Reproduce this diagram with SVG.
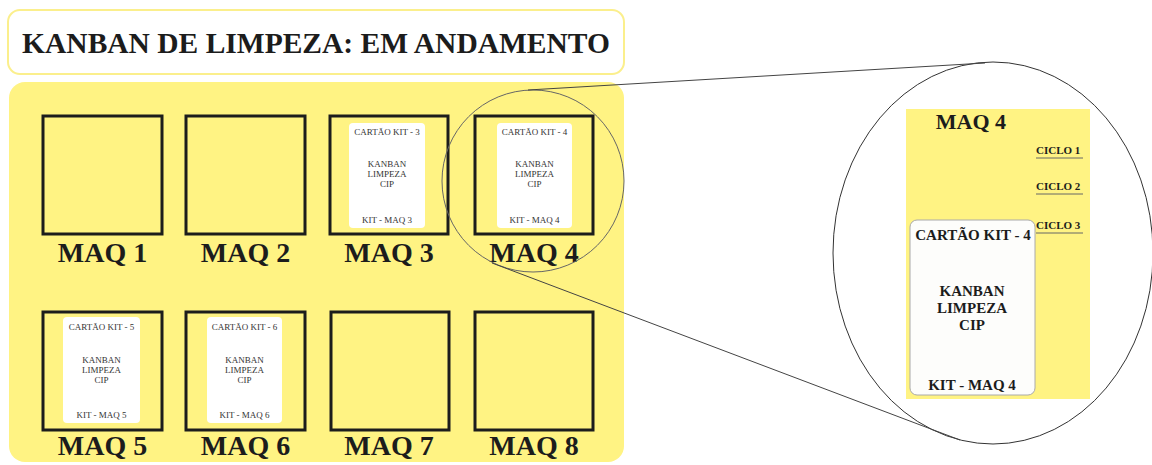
<svg xmlns="http://www.w3.org/2000/svg" width="1152" height="465" viewBox="0 0 1152 465">
<style>
.panel{fill:#fff383;}
.box{fill:none;stroke:#1c1c1c;stroke-width:3;}
.card{fill:#ffffff;}
.maq{font-family:"Liberation Serif",serif;font-weight:bold;font-size:28px;fill:#1c1c1c;text-anchor:middle;}
.ct{font-family:"Liberation Serif",serif;font-size:9px;fill:#333;text-anchor:middle;}
.big{font-family:"Liberation Serif",serif;font-weight:bold;font-size:15px;fill:#1c1c1c;text-anchor:middle;}
.ciclo{font-family:"Liberation Serif",serif;font-weight:bold;font-size:11px;fill:#1c1c1c;}
.uline{stroke:#666;stroke-width:1;}
.thin{fill:none;stroke:#444;stroke-width:1;}
</style>
<rect width="1152" height="465" fill="#ffffff"/>
<g id="title">
<rect x="8" y="10" width="616" height="64" rx="12" fill="#ffffff" stroke="#fbef8c" stroke-width="2"/>
<text x="316" y="53" font-family="Liberation Serif, serif" font-weight="bold" font-size="29.5" fill="#1c1c1c" text-anchor="middle">KANBAN DE LIMPEZA: EM ANDAMENTO</text>
</g>
<g id="board">
<rect class="panel" x="9" y="82" width="615" height="380" rx="16"/>
</g>
<g id="maq1"><rect class="box" x="43" y="116" width="119" height="118"/><text class="maq" x="102.5" y="262">MAQ 1</text></g>
<g id="maq2"><rect class="box" x="186" y="116" width="119" height="118"/><text class="maq" x="245.5" y="262">MAQ 2</text></g>
<g id="maq3"><rect class="box" x="330" y="116" width="118" height="118"/>
<rect class="card" x="349" y="123" width="76" height="105" rx="4"/>
<text class="ct" x="387" y="135">CARTÃO KIT - 3</text>
<text class="ct" x="387" y="167">KANBAN</text><text class="ct" x="387" y="177">LIMPEZA</text><text class="ct" x="387" y="187">CIP</text>
<text class="ct" x="387" y="223">KIT - MAQ 3</text>
<text class="maq" x="389" y="262">MAQ 3</text></g>
<g id="maq4"><rect class="box" x="475" y="116" width="118" height="118"/>
<rect class="card" x="497" y="123" width="75" height="105" rx="4"/>
<text class="ct" x="534.5" y="135">CARTÃO KIT - 4</text>
<text class="ct" x="534.5" y="167">KANBAN</text><text class="ct" x="534.5" y="177">LIMPEZA</text><text class="ct" x="534.5" y="187">CIP</text>
<text class="ct" x="534.5" y="223">KIT - MAQ 4</text>
<text class="maq" x="534" y="262">MAQ 4</text></g>
<g id="maq5"><rect class="box" x="43" y="312" width="119" height="118"/>
<rect class="card" x="63" y="317" width="77" height="106" rx="4"/>
<text class="ct" x="101.5" y="330">CARTÃO KIT - 5</text>
<text class="ct" x="101.5" y="363">KANBAN</text><text class="ct" x="101.5" y="373">LIMPEZA</text><text class="ct" x="101.5" y="383">CIP</text>
<text class="ct" x="101.5" y="418">KIT - MAQ 5</text>
<text class="maq" x="102.5" y="455">MAQ 5</text></g>
<g id="maq6"><rect class="box" x="186" y="312" width="119" height="118"/>
<rect class="card" x="207" y="317" width="75" height="106" rx="4"/>
<text class="ct" x="244.5" y="330">CARTÃO KIT - 6</text>
<text class="ct" x="244.5" y="363">KANBAN</text><text class="ct" x="244.5" y="373">LIMPEZA</text><text class="ct" x="244.5" y="383">CIP</text>
<text class="ct" x="244.5" y="418">KIT - MAQ 6</text>
<text class="maq" x="245.5" y="455">MAQ 6</text></g>
<g id="maq7"><rect class="box" x="331" y="312" width="118" height="118"/><text class="maq" x="389" y="455">MAQ 7</text></g>
<g id="maq8"><rect class="box" x="475" y="312" width="118" height="118"/><text class="maq" x="534" y="455">MAQ 8</text></g>
<g id="zoom-detail">
<ellipse cx="993" cy="253" rx="160" ry="191" fill="none" stroke="#333" stroke-width="1"/>
<rect class="panel" x="906" y="109" width="184" height="290"/>
<text x="971" y="129" font-family="Liberation Serif, serif" font-weight="bold" font-size="22" fill="#1c1c1c" text-anchor="middle">MAQ 4</text>
<text class="ciclo" x="1036" y="154">CICLO 1</text><line class="uline" x1="1036" y1="158" x2="1083" y2="158"/>
<text class="ciclo" x="1036" y="190">CICLO 2</text><line class="uline" x1="1036" y1="194" x2="1083" y2="194"/>
<text class="ciclo" x="1036" y="229">CICLO 3</text><line class="uline" x1="1036" y1="233" x2="1083" y2="233"/>
<rect x="910" y="220" width="125" height="175" rx="7" fill="#fdfdfb" stroke="#aaa" stroke-width="1"/>
<text class="big" x="973" y="240">CARTÃO KIT - 4</text>
<text class="big" x="972" y="296">KANBAN</text>
<text class="big" x="972" y="313">LIMPEZA</text>
<text class="big" x="972" y="330">CIP</text>
<text class="big" x="972" y="390">KIT - MAQ 4</text>
</g>
<g id="connectors">
<circle cx="533" cy="181" r="91" fill="none" stroke="#666" stroke-width="1"/>
<line class="thin" x1="528" y1="90" x2="985" y2="63"/>
<line class="thin" x1="492" y1="263" x2="960" y2="440"/>
</g>
</svg>
